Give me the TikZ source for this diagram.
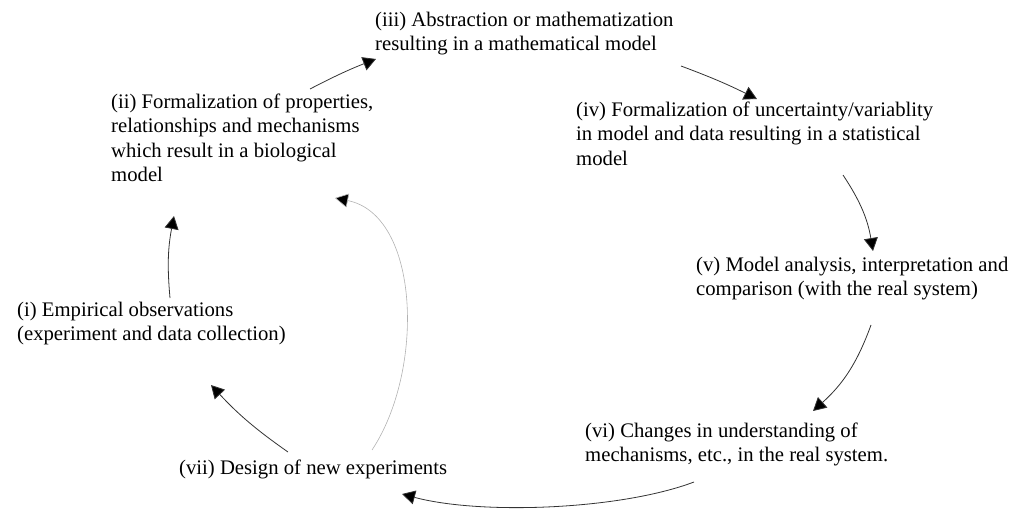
\documentclass[tikz,border=0pt]{standalone}
\usepackage{fontspec}
\setmainfont{Liberation Serif}
\usetikzlibrary{arrows.meta}
\begin{document}
\begin{tikzpicture}[x=1pt,y=-1pt,
  lbl/.style={anchor=north west,align=left,inner sep=0pt,font=\fontsize{20.7}{24.2}\selectfont},
  arr/.style={draw=black!80,line width=0.8pt,-{Triangle[length=13pt,width=14pt,fill=black]}},
  garr/.style={draw=black!30,line width=0.6pt,-{Triangle[length=13pt,width=14pt,fill=black]}}]
\useasboundingbox (0,0) rectangle (1015,513);
\node[lbl] (iii) at (375,12) {(iii) Abstraction or mathematization\\resulting in a mathematical model};
\node[lbl] (ii) at (111,94) {(ii) Formalization of properties,\\relationships and mechanisms\\which result in a biological\\model};
\node[lbl] (iv) at (576,102) {(iv) Formalization of uncertainty/variablity\\in model and data resulting in a statistical\\model};
\node[lbl] (v) at (696,257) {(v) Model analysis, interpretation and\\comparison (with the real system)};
\node[lbl] (i) at (17,302) {(i) Empirical observations\\(experiment and data collection)};
\node[lbl] (vi) at (585,423) {(vi) Changes in understanding of\\mechanisms, etc., in the real system.};
\node[lbl] (vii) at (179,460) {(vii) Design of new experiments};
% connector ends
\coordinate (a1s) at (310,89);  \coordinate (a1e) at (376,59);
\coordinate (a2s) at (681,66);  \coordinate (a2e) at (757,99);
\coordinate (a3s) at (843,175); \coordinate (a3e) at (873,251);
\coordinate (a4s) at (871,325); \coordinate (a4e) at (813,411);
\coordinate (a5s) at (694,482); \coordinate (a5e) at (402,494);
\coordinate (a6s) at (288,452); \coordinate (a6e) at (211,385);
\coordinate (a7s) at (170,298); \coordinate (a7e) at (174,216);
\coordinate (a8s) at (372,450); \coordinate (a8e) at (335,198);
\draw[arr] (a1s) to[bend left=3] (a1e);
\draw[arr] (a2s) to[bend left=3] (a2e);
\draw[arr] (a3s) to[bend left=12] (a3e);
\draw[arr] (a4s) to[bend left=14] (a4e);
\draw[arr] (a5s) .. controls (620,510) and (480,515) .. (a5e);
\draw[arr] (a6s) to[bend left=6] (a6e);
\draw[arr] (a7s) to[bend left=8] (a7e);
\draw[garr] (a8s) .. controls (425,370) and (420,215) .. (a8e);
\end{tikzpicture}
\end{document}
